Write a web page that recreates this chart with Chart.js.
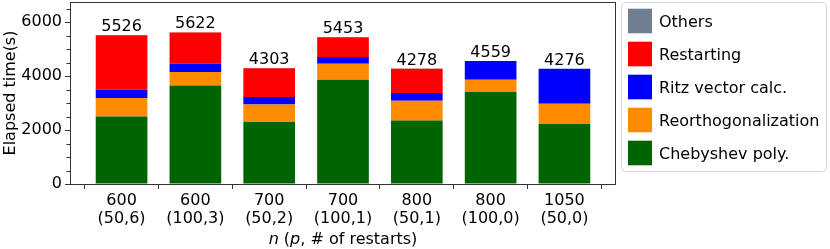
<!DOCTYPE html>
<html>
<head>
<meta charset="utf-8">
<script src="https://cdn.jsdelivr.net/npm/chart.js@4"></script>
<style>
  html, body { margin: 0; padding: 0; background: #fff; }
  #wrap { width: 830px; height: 249px; position: relative; }
</style>
</head>
<body>
<div id="wrap"><canvas id="c" width="830" height="249"></canvas></div>
<script>
// ---- data ----
const nValues = ["600", "600", "700", "700", "800", "800", "1050"];
const pRestarts = ["(50,6)", "(100,3)", "(50,2)", "(100,1)", "(50,1)", "(100,0)", "(50,0)"];
const totals = [5526, 5622, 4303, 5453, 4278, 4559, 4276];
const chebyshev = [2506, 3654, 2296, 3864, 2358, 3407, 2222];
const reorth = [680, 494, 655, 593, 728, 457, 753];
const ritz = [310, 309, 271, 247, 284, 692, 1297];
const restarting = [2020, 1160, 1065, 740, 902, 0, 0];
const others = [10, 5, 16, 9, 6, 3, 4];
const yTicks = [0, 2000, 4000, 6000];
const yMinorStep = 500;
const yMax = 6746;

const FONT = "'DejaVu Sans', 'Liberation Sans', sans-serif";
const FS = 16;

const seriesDefs = [
  { label: "Chebyshev poly.", data: chebyshev, color: "#006400" },
  { label: "Reorthogonalization", data: reorth, color: "#ff8c00" },
  { label: "Ritz vector calc.", data: ritz, color: "#0000ff" },
  { label: "Restarting", data: restarting, color: "#ff0000" },
  { label: "Others", data: others, color: "#708090" }
];

const datasets = seriesDefs.map(s => ({
  label: s.label,
  data: s.data.map((v, i) => ({ x: i, y: v })),
  backgroundColor: s.color,
  borderWidth: 0,
  barPercentage: 0.7,
  categoryPercentage: 1.0
}));

const decorPlugin = {
  id: 'decor',
  afterDatasetsDraw(chart) {
    const ctx = chart.ctx;
    const ca = chart.chartArea;
    const xs = chart.scales.x, ys = chart.scales.y;
    ctx.save();
    // frame
    ctx.strokeStyle = '#333';
    ctx.lineWidth = 1;
    ctx.strokeRect(Math.round(ca.left) - 0.5, Math.round(ca.top) + 0.5,
                   Math.round(ca.right - ca.left) + 1, Math.round(ca.bottom - ca.top));
    // minor y ticks
    ctx.beginPath();
    for (let v = 0; v <= yMax; v += yMinorStep) {
      if (yTicks.includes(v)) continue;
      const py = Math.round(ys.getPixelForValue(v)) + 0.5;
      ctx.moveTo(ca.left - 0.5, py);
      ctx.lineTo(ca.left - 4.5, py);
    }
    ctx.stroke();
    // value labels
    ctx.fillStyle = '#000';
    ctx.font = FS + 'px ' + FONT;
    ctx.textAlign = 'center';
    ctx.textBaseline = 'alphabetic';
    totals.forEach((t, i) => {
      let sum = 0;
      seriesDefs.forEach(s => sum += s.data[i]);
      const px = xs.getPixelForValue(i);
      const py = ys.getPixelForValue(sum);
      ctx.fillText(String(t), px, py - 4);
    });
    // x-axis title with italics
    const parts = [
      { t: 'n', it: true }, { t: ' (', it: false }, { t: 'p', it: true }, { t: ', # of restarts)', it: false }
    ];
    let w = 0;
    parts.forEach(p => { ctx.font = (p.it ? 'oblique ' : '') + FS + 'px ' + FONT; p.w = ctx.measureText(p.t).width; w += p.w; });
    let x0 = (ca.left + ca.right) / 2 - w / 2;
    ctx.textAlign = 'left';
    parts.forEach(p => { ctx.font = (p.it ? 'oblique ' : '') + FS + 'px ' + FONT; ctx.fillText(p.t, x0, 243.5); x0 += p.w; });
    // y-axis title
    ctx.save();
    ctx.translate(15, (ca.top + ca.bottom) / 2);
    ctx.rotate(-Math.PI / 2);
    ctx.font = FS + 'px ' + FONT;
    ctx.textAlign = 'center';
    ctx.fillText('Elapsed time(s)', 0, 0);
    ctx.restore();
    // legend
    const lx = 621.5, ly = 2.5, lw = 205, lh = 169, r = 4;
    ctx.beginPath();
    ctx.moveTo(lx + r, ly);
    ctx.lineTo(lx + lw - r, ly); ctx.quadraticCurveTo(lx + lw, ly, lx + lw, ly + r);
    ctx.lineTo(lx + lw, ly + lh - r); ctx.quadraticCurveTo(lx + lw, ly + lh, lx + lw - r, ly + lh);
    ctx.lineTo(lx + r, ly + lh); ctx.quadraticCurveTo(lx, ly + lh, lx, ly + lh - r);
    ctx.lineTo(lx, ly + r); ctx.quadraticCurveTo(lx, ly, lx + r, ly);
    ctx.closePath();
    ctx.fillStyle = 'rgba(255,255,255,0.8)';
    ctx.fill();
    ctx.strokeStyle = '#d6d6d6';
    ctx.stroke();
    const items = seriesDefs.slice().reverse();
    ctx.font = FS + 'px ' + FONT;
    ctx.textAlign = 'left';
    ctx.textBaseline = 'alphabetic';
    items.forEach((s, i) => {
      const cy = 21 + i * 33;
      ctx.fillStyle = s.color;
      ctx.fillRect(628, cy - 12.3, 24, 24.6);
      ctx.fillStyle = '#000';
      ctx.fillText(s.label, 659, cy + 6);
    });
    ctx.restore();
  }
};

new Chart(document.getElementById('c'), {
  type: 'bar',
  data: { datasets },
  plugins: [decorPlugin],
  options: {
    responsive: false,
    animation: false,
    devicePixelRatio: 1,
    layout: { padding: { left: 0, top: 2, right: 215, bottom: 0 } },
    plugins: { legend: { display: false }, tooltip: { enabled: false } },
    scales: {
      x: {
        type: 'linear',
        stacked: true,
        min: -0.685,
        max: 6.685,
        offset: false,
        afterBuildTicks: (scale) => { scale.ticks = nValues.map((_, i) => ({ value: i })); },
        afterFit: (scale) => { scale.height = 65; scale.paddingLeft = 0; scale.paddingRight = 0; },
        ticks: {
          autoSkip: false,
          maxRotation: 0,
          padding: 3,
          color: '#000',
          font: { family: FONT, size: FS, lineHeight: 1.1 },
          callback: (v, i) => [nValues[i], pRestarts[i]]
        },
        grid: { drawOnChartArea: false, drawTicks: true, tickLength: 5, tickColor: '#333' },
        border: { display: false }
      },
      y: {
        stacked: true,
        min: 0,
        max: yMax,
        afterBuildTicks: (scale) => { scale.ticks = yTicks.map(v => ({ value: v })); },
        afterFit: (scale) => { scale.width = 71; scale.paddingTop = 0; scale.paddingBottom = 0; },
        ticks: {
          padding: 3,
          color: '#000',
          font: { family: FONT, size: FS },
          callback: (v) => String(v)
        },
        grid: { drawOnChartArea: false, drawTicks: true, tickLength: 6, tickColor: '#333' },
        border: { display: false }
      }
    }
  }
});
</script>
</body>
</html>
